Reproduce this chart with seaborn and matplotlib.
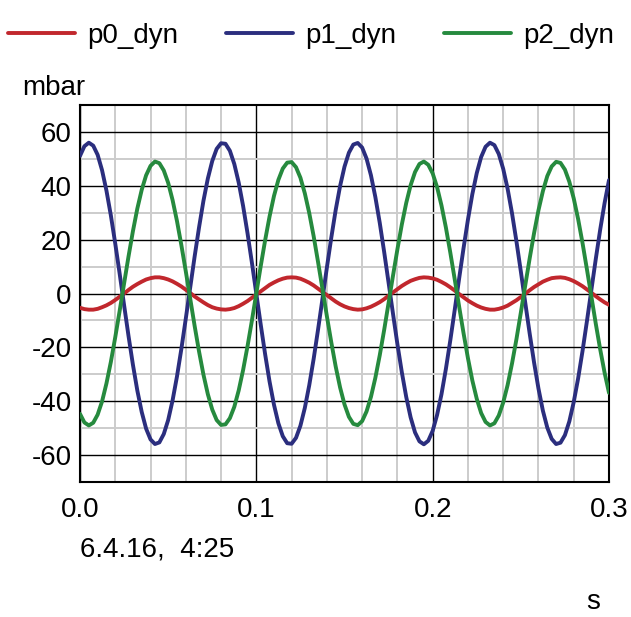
import numpy as np
import pandas as pd
import matplotlib
matplotlib.use("Agg")
import matplotlib.pyplot as plt
from matplotlib.ticker import MultipleLocator, FormatStrFormatter
import seaborn as sns

# Zeitachse (s), Abtastung alle 2.5 ms
t = [round(0.0025 * i, 4) for i in range(121)]

p0_dyn = [
    -5.3, -5.8, -6.0, -6.0, -5.7, -5.1, -4.4, -3.5, -2.4, -1.2,
    0.0, 1.3, 2.5, 3.5, 4.4, 5.2, 5.7, 6.0, 6.0, 5.7,
    5.2, 4.5, 3.6, 2.6, 1.4, 0.2, -1.1, -2.2, -3.3, -4.3,
    -5.1, -5.6, -5.9, -6.0, -5.8, -5.4, -4.7, -3.8, -2.8, -1.6,
    -0.4, 0.8, 2.0, 3.2, 4.1, 4.9, 5.5, 5.9, 6.0, 5.9,
    5.5, 4.8, 4.0, 3.0, 1.8, 0.6, -0.6, -1.8, -3.0, -4.0,
    -4.8, -5.4, -5.8, -6.0, -5.9, -5.5, -4.9, -4.1, -3.2, -2.1,
    -0.8, 0.4, 1.6, 2.8, 3.8, 4.7, 5.3, 5.8, 6.0, 5.9,
    5.6, 5.1, 4.3, 3.4, 2.3, 1.1, -0.2, -1.4, -2.6, -3.6,
    -4.5, -5.2, -5.7, -6.0, -6.0, -5.7, -5.2, -4.5, -3.5, -2.5,
    -1.3, -0.1, 1.2, 2.4, 3.4, 4.4, 5.1, 5.7, 5.9, 6.0,
    5.8, 5.3, 4.6, 3.7, 2.7, 1.5, 0.3, -1.0, -2.2, -3.3,
    -4.2,
]

p1_dyn = [
    51.1, 54.7, 56.0, 54.9, 51.5, 45.8, 38.2, 29.0, 18.5, 7.3,
    -4.3, -15.7, -26.4, -36.0, -44.0, -50.2, -54.2, -55.9, -55.3, -52.2,
    -47.0, -39.7, -30.8, -20.5, -9.3, 2.2, 13.7, 24.5, 34.4, 42.7,
    49.2, 53.7, 55.8, 55.6, 53.0, 48.1, 41.2, 32.5, 22.4, 11.4,
    -0.1, -11.6, -22.6, -32.7, -41.3, -48.2, -53.0, -55.6, -55.8, -53.6,
    -49.1, -42.5, -34.1, -24.3, -13.4, -2.0, 9.6, 20.7, 31.0, 39.9,
    47.1, 52.3, 55.3, 55.9, 54.2, 50.1, 43.9, 35.8, 26.2, 15.4,
    4.0, -7.5, -18.8, -29.2, -38.4, -46.0, -51.6, -54.9, -56.0, -54.7,
    -51.0, -45.1, -37.4, -28.0, -17.4, -6.1, 5.5, 16.8, 27.4, 36.9,
    44.7, 50.7, 54.5, 56.0, 55.1, 51.8, 46.3, 38.9, 29.8, 19.4,
    8.2, -3.4, -14.8, -25.6, -35.3, -43.5, -49.8, -54.0, -55.9, -55.4,
    -52.6, -47.5, -40.3, -31.5, -21.3, -10.2, 1.3, 12.8, 23.7, 33.6,
    42.1,
]

p2_dyn = [
    -44.7, -47.9, -49.0, -48.0, -45.0, -40.1, -33.4, -25.4, -16.2, -6.4,
    3.7, 13.7, 23.1, 31.5, 38.5, 43.9, 47.4, 49.0, 48.4, 45.7,
    41.1, 34.7, 26.9, 17.9, 8.2, -1.9, -12.0, -21.5, -30.1, -37.4,
    -43.1, -47.0, -48.8, -48.6, -46.3, -42.1, -36.0, -28.4, -19.6, -10.0,
    0.1, 10.2, 19.8, 28.6, 36.2, 42.2, 46.4, 48.6, 48.8, 46.9,
    43.0, 37.2, 29.9, 21.3, 11.7, 1.7, -8.4, -18.1, -27.1, -34.9,
    -41.2, -45.8, -48.4, -48.9, -47.4, -43.8, -38.4, -31.3, -22.9, -13.5,
    -3.5, 6.6, 16.4, 25.6, 33.6, 40.2, 45.1, 48.1, 49.0, 47.8,
    44.6, 39.5, 32.7, 24.5, 15.2, 5.3, -4.8, -14.7, -24.0, -32.3,
    -39.1, -44.4, -47.7, -49.0, -48.2, -45.3, -40.5, -34.0, -26.0, -17.0,
    -7.1, 3.0, 13.0, 22.4, 30.9, 38.0, 43.6, 47.2, 48.9, 48.5,
    46.0, 41.5, 35.3, 27.6, 18.7, 8.9, -1.1, -11.2, -20.7, -29.4,
    -36.9,
]

series = ["p0_dyn", "p1_dyn", "p2_dyn"]
colors = {"p0_dyn": "#c1272d", "p1_dyn": "#2b2e7e", "p2_dyn": "#268a3e"}

df = pd.concat([
    pd.DataFrame({"t": t, "wert": vals, "kanal": name})
    for name, vals in zip(series, [p0_dyn, p1_dyn, p2_dyn])
])

sns.set_style("white")
plt.rcParams["font.family"] = ["Liberation Sans", "DejaVu Sans"]
plt.rcParams["axes.unicode_minus"] = False
plt.rcParams["text.color"] = "black"
plt.rcParams["xtick.color"] = "black"
plt.rcParams["ytick.color"] = "black"

fig = plt.figure(figsize=(6.31, 6.17), dpi=100)
ax = fig.add_axes([80 / 631, 1 - 482 / 617, 529 / 631, 377 / 617])

sns.lineplot(data=df, x="t", y="wert", hue="kanal", palette=colors,
             linewidth=2.8, ax=ax, legend=True, zorder=3)

handles, labels = ax.get_legend_handles_labels()
ax.get_legend().remove()
fig.legend(handles, labels, loc="center left", bbox_to_anchor=(0.0, 1 - 36 / 617),
           ncol=3, frameon=False, fontsize=20, handlelength=2.4,
           handletextpad=0.45, columnspacing=1.72, borderaxespad=0, borderpad=0.3)

ax.set_xlim(0, 0.3)
ax.set_ylim(-70, 70)
ax.xaxis.set_major_locator(MultipleLocator(0.1))
ax.xaxis.set_minor_locator(MultipleLocator(0.02))
ax.yaxis.set_major_locator(MultipleLocator(20))
ax.yaxis.set_minor_locator(MultipleLocator(10))
ax.xaxis.set_major_formatter(FormatStrFormatter("%.1f"))
ax.yaxis.set_major_formatter(FormatStrFormatter("%d"))
ax.grid(which="minor", color="#cccccc", linewidth=1.4, zorder=0)
ax.grid(which="major", color="black", linewidth=1.0, zorder=1)
ax.tick_params(which="both", length=0, labelsize=20, colors="black")
ax.tick_params(axis="x", pad=11)
ax.tick_params(axis="y", pad=6)
ax.set_xlabel("")
ax.set_ylabel("")
for sp in ax.spines.values():
    sp.set_color("black")
    sp.set_linewidth(1.5)

fig.text(22 / 631, 1 - 88 / 617, "mbar", fontsize=20, va="center", ha="left")
fig.text(80 / 631, 1 - 550 / 617, "6.4.16,  4:25", fontsize=20, va="center", ha="left")
fig.text(593 / 631, 1 - 609 / 617, "s", fontsize=20, va="baseline", ha="center")

fig.savefig("out.png", dpi=100, facecolor="white")
